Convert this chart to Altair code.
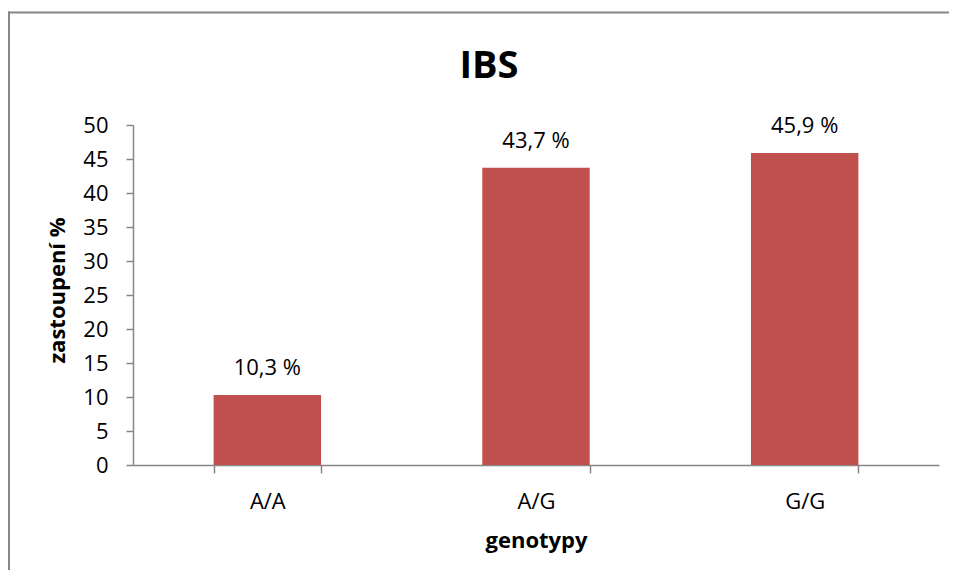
import altair as alt
import pandas as pd

genotypes = ["A/A", "A/G", "G/G"]
shares = [10.3, 43.7, 45.9]
y_ticks = [0, 5, 10, 15, 20, 25, 30, 35, 40, 45, 50]
chart_title = "IBS"

df = pd.DataFrame({
    "genotyp": genotypes,
    "podil": shares,
    "label": [f"{v:.1f}".replace(".", ",") + " %" for v in shares],
})

FONT = "Open Sans"
GRAY = "#868686"
RED = "#C0504D"

W, H = 806, 340
PAD_L, PAD_T, PAD_R, PAD_B = 125, 117, 10, 105

x_enc = alt.X(
    "genotyp:N",
    sort=genotypes,
    scale=alt.Scale(paddingInner=0.6, paddingOuter=0.3),
    axis=alt.Axis(
        title="genotypy",
        titleFont=FONT, titleFontSize=22, titleFontWeight="bold", titleColor="black",
        titleBaseline="alphabetic", titleY=82,
        labelFont=FONT, labelFontSize=22, labelColor="black", labelAngle=0,
        labelBaseline="alphabetic", labelPadding=35,
        domainColor=GRAY, domainWidth=1.5, tickColor=GRAY, tickWidth=1.5,
        tickSize=8, tickBand="extent", grid=False,
    ),
)
y_enc = alt.Y(
    "podil:Q",
    scale=alt.Scale(domain=[0, 50], nice=False),
    axis=alt.Axis(
        title="zastoupení %",
        values=y_ticks,
        labelOverlap=False,
        titleFont=FONT, titleFontSize=22, titleFontWeight="bold", titleColor="black",
        titleAngle=-90, titleBaseline="middle", titleAlign="center",
        titleX=-76, titleY=165,
        labelFont=FONT, labelFontSize=22, labelColor="black", labelPadding=18,
        domainColor=GRAY, domainWidth=1.5, tickColor=GRAY, tickWidth=1.5,
        tickSize=7, grid=False,
    ),
)

base = alt.Chart(df).encode(x=x_enc, y=y_enc)
bars = base.mark_bar(color=RED)
texts = base.mark_text(
    font=FONT, fontSize=22, color="black", baseline="alphabetic", dy=-20
).encode(text="label:N")

one = pd.DataFrame({"t": [chart_title]})
title_mark = alt.Chart(one).mark_text(
    font=FONT, fontSize=38, fontWeight="bold", color="black",
    baseline="alphabetic", align="center",
).encode(x=alt.value(356), y=alt.value(-47), text="t:N")

frame_top = alt.Chart(one).mark_rule(color=GRAY, strokeWidth=2).encode(
    x=alt.value(-PAD_L), x2=alt.value(W + PAD_R), y=alt.value(-112.5)
)
frame_left = alt.Chart(one).mark_rule(color=GRAY, strokeWidth=2).encode(
    x=alt.value(-124), y=alt.value(-113.5), y2=alt.value(H + PAD_B)
)

chart = alt.layer(bars, texts, title_mark, frame_top, frame_left).properties(
    width=W, height=H,
    autosize=alt.AutoSizeParams(type="none"),
    padding={"left": PAD_L, "top": PAD_T, "right": PAD_R, "bottom": PAD_B},
).configure_view(stroke=None)

chart.save("out.html", embed_options={"renderer": "svg", "actions": False})
